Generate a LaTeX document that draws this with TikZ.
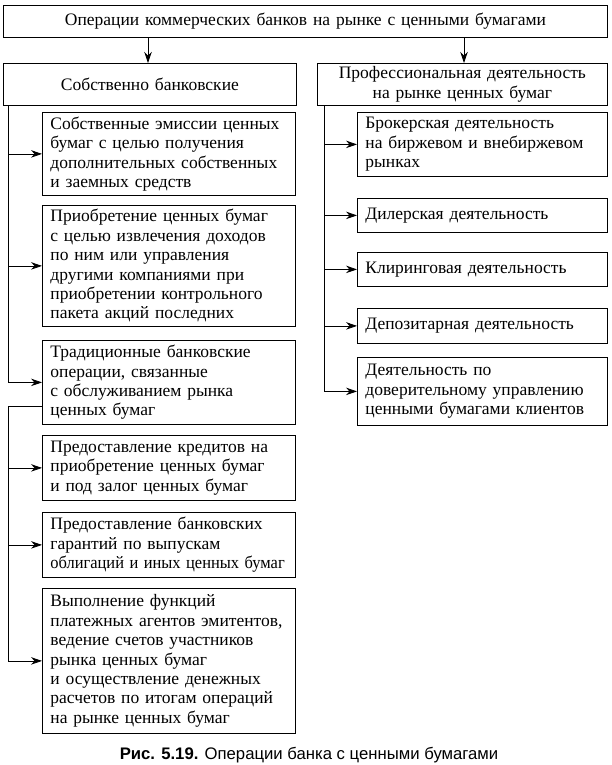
\documentclass[tikz,border=0pt]{standalone}
\usepackage{fontspec}
\setmainfont{Liberation Serif}
\setsansfont{Liberation Sans}
\usetikzlibrary{arrows.meta,calc}
\newcommand{\ml}[1]{\mbox{#1}}
\begin{document}
\begin{tikzpicture}[x=1pt,y=-1pt,
  font=\fontsize{17.5}{19.4}\selectfont,
  box/.style={draw,line width=0.8pt,rectangle,inner ysep=0pt,inner xsep=8pt,anchor=north west},
  hbox/.style={box,align=center},
  sbox/.style={box,align=left},
  ln/.style={line width=0.8pt},
  arr/.style={ln,-{Stealth[length=11pt,width=7.5pt]}}]
\useasboundingbox (0,0) rectangle (611,765);
% headers
\node[hbox,minimum width=604pt,minimum height=32pt,text width=588pt] (top) at (3,5) {Операции коммерческих банков на рынке с ценными бумагами};
\node[hbox,minimum width=293pt,minimum height=42pt,text width=277pt] (L) at (3,63) {Собственно банковские};
\node[hbox,minimum width=290pt,minimum height=42pt,text width=274pt] (R) at (317,63) {Профессиональная деятельность\\на рынке ценных бумаг};
\draw[arr] (top.south -| 148,0) -- (L.north -| 148,0);
\draw[arr] (top.south -| 464,0) -- (R.north -| 464,0);
% left sub boxes
\node[sbox,minimum width=253pt,minimum height=83pt,text width=237pt] (B1) at (42,112) {\ml{Собственные эмиссии ценных}\\\ml{бумаг с целью получения}\\\ml{дополнительных собственных}\\\ml{и заемных средств}};
\node[sbox,minimum width=253pt,minimum height=121pt,text width=237pt] (B2) at (42,205) {\ml{Приобретение ценных бумаг}\\\ml{с целью извлечения доходов}\\\ml{по ним или управления}\\\ml{другими компаниями при}\\\ml{приобретении контрольного}\\\ml{пакета акций последних}};
\node[sbox,minimum width=253pt,minimum height=84pt,text width=237pt] (B3) at (42,340) {\ml{Традиционные банковские}\\\ml{операции, связанные}\\\ml{с обслуживанием рынка}\\\ml{ценных бумаг}};
\node[sbox,minimum width=253pt,minimum height=65pt,text width=237pt] (B4) at (42,435) {\ml{Предоставление кредитов на}\\\ml{приобретение ценных бумаг}\\\ml{и под залог ценных бумаг}};
\node[sbox,minimum width=253pt,minimum height=65pt,text width=237pt] (B5) at (42,512) {\ml{Предоставление банковских}\\\ml{гарантий по выпускам}\\\scalebox{0.94}[1]{облигаций и иных ценных бумаг}};
\node[sbox,minimum width=253pt,minimum height=145pt,text width=237pt] (B6) at (42,588) {\ml{Выполнение функций}\\\ml{платежных агентов эмитентов,}\\\ml{ведение счетов участников}\\\ml{рынка ценных бумаг}\\\ml{и осуществление денежных}\\\ml{расчетов по итогам операций}\\\ml{на рынке ценных бумаг}};
% right sub boxes
\node[sbox,minimum width=250pt,minimum height=64pt,text width=234pt] (R1) at (357,112) {\ml{Брокерская деятельность}\\\ml{на биржевом и внебиржевом}\\\ml{рынках}};
\node[sbox,minimum width=250pt,minimum height=34pt,text width=234pt] (R2) at (357,198) {Дилерская деятельность};
\node[sbox,minimum width=250pt,minimum height=34pt,text width=234pt] (R3) at (357,252) {Клиринговая деятельность};
\node[sbox,minimum width=250pt,minimum height=35pt,text width=234pt] (R4) at (357,308) {Депозитарная деятельность};
\node[sbox,minimum width=250pt,minimum height=68pt,text width=234pt] (R5) at (357,357) {\ml{Деятельность по}\\\ml{доверительному управлению}\\\ml{ценными бумагами клиентов}};
% left trunk 1
\coordinate (tl) at (L.south -| 8,0);
\draw[arr] (tl) |- (B3.west);
\draw[arr] (B1.west -| tl) -- (B1.west);
\draw[arr] (B2.west -| tl) -- (B2.west);
% left trunk 2
\coordinate (b3o) at ($(B3.south west)+(0,-18)$);
\draw[arr] (b3o) -| (tl |- B6.west) -- (B6.west);
\draw[arr] (B4.west -| tl) -- (B4.west);
\draw[arr] (B5.west -| tl) -- (B5.west);
% right trunk
\coordinate (tr) at (R.south -| 324,0);
\draw[arr] (tr) |- (R5.west);
\draw[arr] (R1.west -| tr) -- (R1.west);
\draw[arr] (R2.west -| tr) -- (R2.west);
\draw[arr] (R3.west -| tr) -- (R3.west);
\draw[arr] (R4.west -| tr) -- (R4.west);
% caption
\node[font=\sffamily\fontsize{16.7}{19}\selectfont] (cap) at (309,755) {\textbf{Рис. 5.19.} Операции банка с ценными бумагами};
\end{tikzpicture}
\end{document}
